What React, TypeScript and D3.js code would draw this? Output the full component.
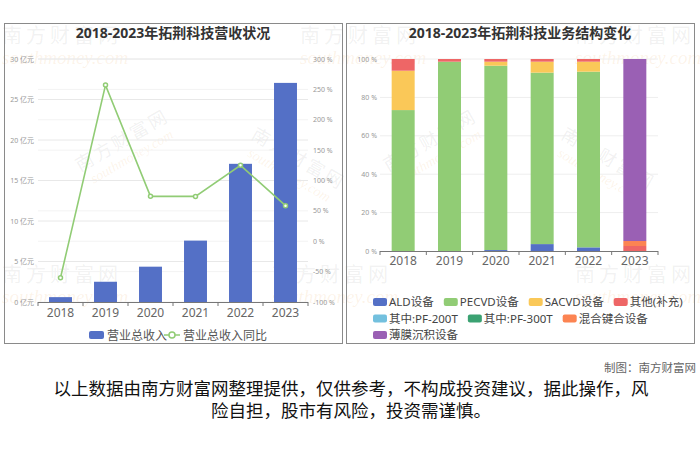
import React, { useLayoutEffect, useRef, useState } from 'react'
import * as d3 from 'd3'

const years = ['2018', '2019', '2020', '2021', '2022', '2023']
// 营业总收入 (亿元)
const revenue = [0.6, 2.5, 4.36, 7.58, 17.06, 27.05]
// 营业总收入同比 (%)
const revenueYoY = [-60, 257, 73.9, 73.8, 125, 58.6]
const leftTicks = [0, 5, 10, 15, 20, 25, 30]
const rightTicks = [-100, -50, 0, 50, 100, 150, 200, 250, 300]
const pctTicks = [0, 20, 40, 60, 80, 100]

const segNames = ['ALD设备', 'PECVD设备', 'SACVD设备', '其他(补充)', '其中:PF-200T', '其中:PF-300T', '混合键合设备', '薄膜沉积设备']
const segColors = ['#5470c6', '#91cc75', '#fac858', '#ee6666', '#73c0de', '#3ba272', '#fc8452', '#9a60b4']
// 业务结构 (%)
const ald = [0, 0, 0.5, 3.6, 1.9, 0]
const pecvd = [73.4, 98.6, 96.0, 89.3, 91.5, 0]
const sacvd = [20.5, 0, 2.1, 5.7, 5.2, 0]
const other = [6.1, 1.4, 1.4, 1.4, 1.4, 2.6]
const pf200 = [0, 0, 0, 0, 0, 0]
const pf300 = [0, 0, 0, 0, 0, 0]
const hybrid = [0, 0, 0, 0, 0, 2.6]
const film = [0, 0, 0, 0, 0, 94.8]
const segValues = [ald, pecvd, sacvd, other, pf200, pf300, hybrid, film]

const FONT = '"Noto Sans", "Noto Sans CJK SC", sans-serif'

function Watermarks() {
    const grey = 'rgba(120,120,120,0.10)'
    const orange = 'rgba(235,160,80,0.13)'
    const rows = [
        { x: 2, y: 43 }, { x: 300, y: 43 }, { x: 575, y: 43 },
        { x: 2, y: 282 }, { x: 272, y: 282 }, { x: 575, y: 282 },
    ]
    const diag = [
        { x: 80, y: 172, r: -30 }, { x: 250, y: 138, r: 30 },
        { x: 388, y: 172, r: -30 }, { x: 560, y: 138, r: 30 },
    ]
    return (
        <g pointerEvents="none">
            {rows.map((d, i) => (
                <g key={'h' + i} transform={`translate(${d.x},${d.y})`}>
                    <text fontSize={20} letterSpacing={4} fill={grey} fontFamily={FONT}>南方财富网</text>
                    <text y={21} fontSize={19} fontStyle="italic" fill={orange} fontFamily="'Liberation Serif', serif">southmoney.com</text>
                </g>
            ))}
            {diag.map((d, i) => (
                <g key={'d' + i} transform={`translate(${d.x},${d.y}) rotate(${d.r})`}>
                    <text fontSize={18} letterSpacing={3} fill={grey} fontFamily={FONT}>南方财富网</text>
                    <text y={17} x={6} fontSize={14} fontStyle="italic" fill={orange} fontFamily="'Liberation Serif', serif">southmoney.com</text>
                </g>
            ))}
        </g>
    )
}

function RevenueChart() {
    const x = d3.scaleBand<string>().domain(years).range([38, 308])
    const yL = d3.scaleLinear().domain([0, 30]).range([302, 59])
    const yR = d3.scaleLinear().domain([-100, 300]).range([302, 59])
    const bw = x.bandwidth() * 0.51
    const cx = (d: string) => (x(d) || 0) + x.bandwidth() / 2
    const line = d3.line<number>().x((_, i) => cx(years[i])).y(d => yR(d))
    const bounds = [...years.map(d => x(d) || 0), 308]
    return (
        <g>
            <rect x={4.5} y={23.5} width={338} height={320} fill="none" stroke="#8a8a8a" />
            <text x={173} y={38} textAnchor="middle" fontSize={14} fontWeight="bold" fill="#333" fontFamily={FONT}>2018-2023年拓荆科技营收状况</text>
            {rightTicks.map(t => (
                <line key={'gr' + t} x1={38} x2={308} y1={yR(t)} y2={yR(t)} stroke="#f3f3f3" />
            ))}
            {leftTicks.map(t => (
                <g key={'gl' + t}>
                    {t > 0 && <line x1={38} x2={308} y1={yL(t)} y2={yL(t)} stroke="#e8e8e8" />}
                    <text x={34} y={yL(t) + 2.5} textAnchor="end" fontSize={7} fill="#999" fontFamily={FONT}>{t} 亿元</text>
                </g>
            ))}
            {rightTicks.map(t => (
                <text key={'tr' + t} x={313} y={yR(t) + 2.5} fontSize={7} fill="#999" fontFamily={FONT}>{t} %</text>
            ))}
            {revenue.map((v, i) => (
                <rect key={'b' + i} x={cx(years[i]) - bw / 2} y={yL(v)} width={bw} height={yL(0) - yL(v)} fill="#5470c6" />
            ))}
            <line x1={38} x2={308} y1={302.5} y2={302.5} stroke="#777" />
            {bounds.map((b, i) => (
                <line key={'tk' + i} x1={b} x2={b} y1={302} y2={306} stroke="#777" />
            ))}
            {years.map(d => (
                <text key={'xl' + d} x={cx(d)} y={317} textAnchor="middle" fontSize={12} fill="#666" fontFamily={FONT}>{d}</text>
            ))}
            <path d={line(revenueYoY) || ''} fill="none" stroke="#91cc75" strokeWidth={1.6} />
            {revenueYoY.map((v, i) => (
                <circle key={'p' + i} cx={cx(years[i])} cy={yR(v)} r={2} fill="#fff" stroke="#91cc75" strokeWidth={1.5} />
            ))}
            <g fontFamily={FONT} fontSize={12} fill="#555">
                <rect x={89} y={331} width={15} height={8} rx={2} fill="#5470c6" />
                <text x={107} y={339.5}>营业总收入</text>
                <line x1={164} x2={180} y1={335} y2={335} stroke="#91cc75" strokeWidth={1.5} />
                <circle cx={172} cy={335} r={3} fill="#fff" stroke="#91cc75" strokeWidth={1.5} />
                <text x={183} y={339.5}>营业总收入同比</text>
            </g>
        </g>
    )
}

function StructureChart() {
    const x = d3.scaleBand<string>().domain(years).range([380, 658])
    const y = d3.scaleLinear().domain([0, 100]).range([251, 59])
    const bw = 23
    const cx = (d: string) => (x(d) || 0) + x.bandwidth() / 2
    const table = years.map((yr, i) => {
        const row: Record<string, number | string> = { year: yr }
        segNames.forEach((n, k) => { row[n] = segValues[k][i] })
        return row
    })
    const stack = d3.stack<Record<string, number | string>>().keys(segNames).value((d, k) => Number(d[k]))
    const series = stack(table)
    const bounds = [...years.map(d => x(d) || 0), 658]

    // legend flow, using measured text widths
    const measureRef = useRef<SVGGElement>(null)
    const [widths, setWidths] = useState<number[]>(segNames.map(n => n.length * 8))
    useLayoutEffect(() => {
        const g = measureRef.current
        if (!g) return
        const ws = Array.from(g.querySelectorAll('text')).map(t => (t as SVGTextElement).getComputedTextLength())
        setWidths(ws)
    }, [])
    const legendItems: { name: string; color: string; x: number; y: number }[] = []
    let lx = 373, ly = 302
    segNames.forEach((n, i) => {
        const w = 16 + widths[i]
        if (lx + w > 684) { lx = 373; ly += 16.5 }
        legendItems.push({ name: n, color: segColors[i], x: lx, y: ly })
        lx += w + 10
    })

    return (
        <g>
            <rect x={346.5} y={23.5} width={348} height={320} fill="none" stroke="#8a8a8a" />
            <text x={520} y={38} textAnchor="middle" fontSize={14} fontWeight="bold" fill="#333" fontFamily={FONT}>2018-2023年拓荆科技业务结构变化</text>
            {pctTicks.map(t => (
                <g key={'g' + t}>
                    {t > 0 && <line x1={380} x2={658} y1={y(t)} y2={y(t)} stroke="#eeeeee" />}
                    <text x={377} y={y(t) + 2.5} textAnchor="end" fontSize={7} fill="#999" fontFamily={FONT}>{t} %</text>
                </g>
            ))}
            {series.map((s, k) => (
                <g key={'s' + k} fill={segColors[k]}>
                    {s.map((d, i) => d[1] - d[0] > 0 ? (
                        <rect key={i} x={cx(years[i]) - bw / 2} y={y(d[1])} width={bw} height={y(d[0]) - y(d[1])} />
                    ) : null)}
                </g>
            ))}
            <line x1={380} x2={658} y1={251.5} y2={251.5} stroke="#777" />
            {bounds.map((b, i) => (
                <line key={'tk' + i} x1={b} x2={b} y1={251} y2={255} stroke="#777" />
            ))}
            {years.map(d => (
                <text key={'xl' + d} x={cx(d)} y={265} textAnchor="middle" fontSize={12} fill="#666" fontFamily={FONT}>{d}</text>
            ))}
            <g ref={measureRef} fontFamily={FONT} fontSize={11.5} visibility="hidden">
                {segNames.map(n => <text key={n} x={0} y={-20}>{n}</text>)}
            </g>
            <g fontFamily={FONT} fontSize={11.5} fill="#444">
                {legendItems.map(it => (
                    <g key={it.name}>
                        <rect x={it.x} y={it.y - 4} width={14} height={8} rx={2} fill={it.color} />
                        <text x={it.x + 16} y={it.y + 4}>{it.name}</text>
                    </g>
                ))}
            </g>
        </g>
    )
}

export default function App() {
    return (
        <div style={{ position: 'absolute', left: 0, top: 0, width: 700, height: 467, background: '#fff' }}>
            <svg width={700} height={467} style={{ display: 'block' }}>
                <rect width={700} height={467} fill="#fff" />
                <Watermarks />
                <RevenueChart />
                <StructureChart />
                <text x={696} y={372} textAnchor="end" fontSize={11.5} fill="#666" fontFamily={FONT}>制图：南方财富网</text>
                <g fontFamily={FONT} fontSize={17.5} fill="#111" textAnchor="middle">
                    <text x={351} y={395}>以上数据由南方财富网整理提供，仅供参考，不构成投资建议，据此操作，风</text>
                    <text x={351} y={417}>险自担，股市有风险，投资需谨慎。</text>
                </g>
            </svg>
        </div>
    )
}
